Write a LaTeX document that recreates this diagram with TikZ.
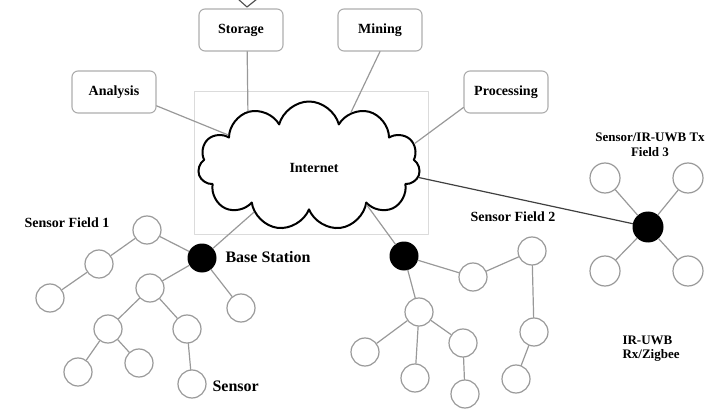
\documentclass[tikz,border=0pt]{standalone}
\usepackage{fontspec}
\setmainfont{Liberation Serif}
\usepackage{tikz}
\usetikzlibrary{shapes.symbols}
\definecolor{linegray}{rgb}{0.6,0.6,0.6}
\definecolor{boxgray}{rgb}{0.68,0.68,0.68}
\definecolor{framegray}{rgb}{0.86,0.86,0.86}
\tikzset{
  task/.style={draw=boxgray, line width=1.1pt, rounded corners=6pt, minimum width=84pt,
    minimum height=42pt, font=\fontsize{14}{16}\selectfont\bfseries},
  sensor/.style={circle, draw=linegray, line width=1.2pt, minimum size=28pt, inner sep=0pt},
  base/.style={circle, fill=black, minimum size=29pt, inner sep=0pt},
  link/.style={draw=linegray, line width=1.2pt},
  lbl/.style={font=\fontsize{14}{16}\selectfont\bfseries},
  biglbl/.style={font=\fontsize{16}{18}\selectfont\bfseries}
}

\begin{document}
\begin{tikzpicture}[line cap=round,line join=round, x=1pt,y=-1pt]
\useasboundingbox (0,0) rectangle (710,409);
\clip (0,0) rectangle (710,409);
% partial shape at the top
\draw [color=black!70, line width=1.1pt] (238,-1) -- (247,7) -- (257,-1);
% frame and cloud
\draw [color=framegray, line width=1pt] (194,92) rectangle (428,234);
\node [cloud, cloud puffs=11, cloud ignores aspect, draw, fill=white, line width=2pt,
  minimum width=222pt, minimum height=129pt, inner sep=0pt] (internet) at (309,166) {};
\node [lbl] at (314,168) {Internet};
% services
\node [task] (storage) at (241,30) {Storage};
\node [task] (mining) at (380,30) {Mining};
\node [task] (analysis) at (114,92) {Analysis};
\node [task] (processing) at (506,92) {Processing};
\draw [link] (storage.-74) -- (internet.138);
\draw [link] (mining.south) -- (internet.52);
\draw [link] (analysis.-18) -- (internet.159);
\draw [link] (processing.200) -- (internet.12);
% sensor field 1
\node [base] (bs1) at (202,258) {};
\node [biglbl, anchor=west] at (222,257) {Base Station};
\node [lbl] at (67,223) {Sensor Field 1};
\node [sensor] (a1) at (147,230) {};
\node [sensor] (a2) at (99,264) {};
\node [sensor] (a3) at (50,298) {};
\node [sensor] (a4) at (150,288) {};
\node [sensor] (a5) at (241,308) {};
\node [sensor] (a6) at (108,329) {};
\node [sensor] (a7) at (187,329) {};
\node [sensor] (a8) at (78,372) {};
\node [sensor] (a9) at (139,363) {};
\node [sensor] (a10) at (192,384) {};
\node [biglbl, anchor=west] at (209,386) {Sensor};
\draw [link] (a3) -- (a2) -- (a1) -- (bs1);
\draw [link] (bs1) -- (a4);
\draw [link] (bs1) -- (a5);
\draw [link] (a4) -- (a6);
\draw [link] (a4) -- (a7);
\draw [link] (a6) -- (a8);
\draw [link] (a6) -- (a9);
\draw [link] (a7) -- (a10);
\draw [link] (bs1) -- (internet.220);
% sensor field 2
\node [base] (bs2) at (404,256) {};
\node [lbl] at (513,217) {Sensor Field 2};
\node [sensor] (b1) at (473,277) {};
\node [sensor] (b2) at (532,251) {};
\node [sensor] (b3) at (419,312) {};
\node [sensor] (b4) at (365,352) {};
\node [sensor] (b5) at (415,378) {};
\node [sensor] (b6) at (463,343) {};
\node [sensor] (b7) at (465,394) {};
\node [sensor] (b8) at (534,332) {};
\node [sensor] (b9) at (516,379) {};
\draw [link] (bs2) -- (b1) -- (b2) -- (b8) -- (b9);
\draw [link] (bs2) -- (b3);
\draw [link] (b3) -- (b4);
\draw [link] (b3) -- (b5);
\draw [link] (b3) -- (b6) -- (b7);
\draw [link] (bs2) -- (internet.326);
% sensor field 3
\node [base, minimum size=31pt] (bs3) at (648,227) {};
\node [font=\fontsize{13}{15}\selectfont\bfseries, align=center] at (650,145) {Sensor/IR-UWB Tx\\Field 3};
\node [sensor, minimum size=30pt] (c1) at (605,178) {};
\node [sensor, minimum size=30pt] (c2) at (688,178) {};
\node [sensor, minimum size=30pt] (c3) at (605,271) {};
\node [sensor, minimum size=30pt] (c4) at (688,271) {};
\draw [link] (bs3) -- (c1);
\draw [link] (bs3) -- (c2);
\draw [link] (bs3) -- (c3);
\draw [link] (bs3) -- (c4);
\draw [link, color=black!75] (internet.354) -- (bs3);
\node [font=\fontsize{13}{14}\selectfont\bfseries, align=left, anchor=west] at (619,349) {IR-UWB\\Rx/Zigbee};
\end{tikzpicture}
\end{document}
